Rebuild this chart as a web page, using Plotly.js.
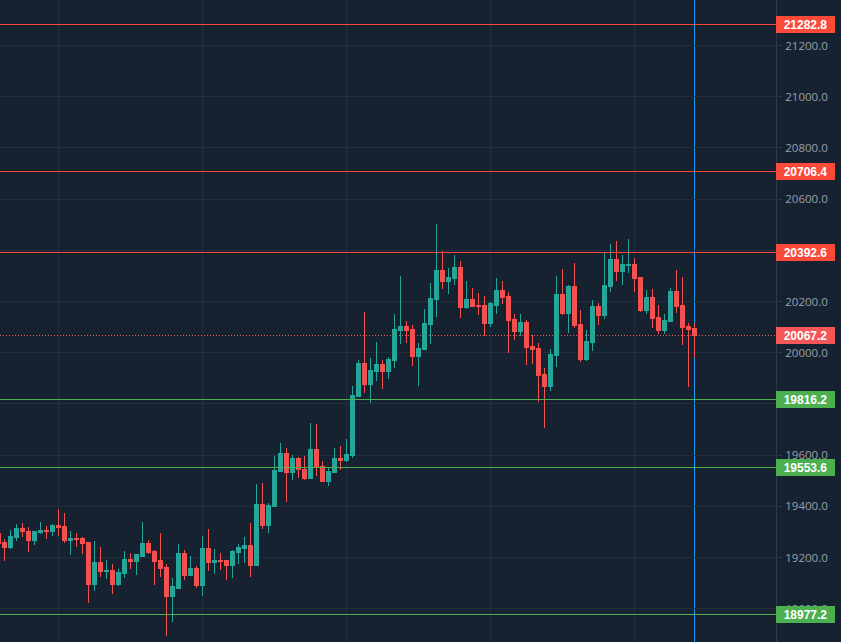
<!DOCTYPE html>
<html><head><meta charset="utf-8">
<script src="https://cdn.plot.ly/plotly-3.0.1.min.js"></script>
<style>html,body{margin:0;padding:0;background:#172231;overflow:hidden}#c{width:841px;height:642px}
.shapelayer path,.boxlayer path{shape-rendering:crispEdges !important}</style>
</head><body><div id="c"></div>
<script>
const open_ = [19292,19257,19241,19280,19315,19303,19268,19296,19307,19300,19327,19323,19268,19276,19276,19257,19093,19182,19147,19151,19093,19136,19194,19186,19206,19253,19225,19190,19163,19046,19081,19214,19128,19159,19089,19237,19182,19190,19190,19167,19221,19237,19249,19167,19409,19327,
19401,19538,19608,19534,19588,19545,19510,19623,19557,19499,19534,19588,19581,19600,19830,19959,19877,19928,19955,19928,19971,
20088,20103,20092,19986,20013,20111,20209,20322,20279,20291,20333,20177,20209,20185,20185,20115,20185,20244,20220,20131,20084,20119,20025,20017,19916,19869,
19990,20228,20154,20259,20111,19975,20041,20181,20146,20259,20365,20318,20341,20345,20295,20166,20216,20138,20088,20123,20240,20185,20103,20095];
const high_ = [19300,19272,19307,19331,19335,19319,19303,19339,19323,19331,19389,19374,19303,19296,19280,19257,19264,19241,19190,19175,19155,19225,19218,19214,19339,19268,19229,19296,19175,19120,19253,19229,19206,19167,19284,19311,19233,19218,19190,19229,19253,19280,19335,19487,19491,19413,
19596,19647,19627,19600,19592,19596,19725,19721,19577,19549,19627,19635,19662,19869,19971,20158,19979,20041,19971,19982,20150,
20298,20123,20107,20037,20170,20271,20501,20396,20330,20380,20357,20279,20252,20232,20220,20197,20291,20279,20236,20150,20150,20127,20068,20037,19939,20013,
20298,20326,20263,20349,20166,20088,20205,20193,20388,20423,20435,20380,20443,20369,20295,20244,20248,20185,20150,20252,20322,20295,20115,20115];
const low_ = [19240,19186,19233,19264,19280,19221,19249,19292,19272,19284,19284,19257,19210,19241,19214,19022,19069,19124,19116,19058,19089,19120,19155,19132,19206,19214,19093,19124,18894,18948,19077,19112,19128,19081,19050,19147,19136,19151,19112,19120,19175,19179,19124,19167,19311,19296,
19401,19534,19417,19502,19510,19502,19510,19518,19499,19479,19530,19541,19573,19588,19826,19842,19803,19889,19857,19896,19939,
20033,20037,19947,19869,20010,20033,20138,20248,20228,20263,20135,20170,20177,20146,20064,20099,20150,20189,19998,20049,20064,19951,19955,19807,19705,19850,
19943,20146,20076,20095,19963,19967,20006,20107,20131,20236,20279,20263,20310,20236,20158,20150,20095,20072,20072,20119,20154,20029,19865,19978];
const close_ = [19255,19241,19284,19315,19300,19268,19300,19307,19300,19327,19319,19268,19276,19272,19253,19093,19182,19147,19151,19093,19140,19194,19186,19210,19253,19221,19186,19159,19046,19085,19214,19128,19159,19089,19237,19182,19190,19186,19167,19225,19241,19249,19167,19409,19327,19405,
19541,19608,19534,19588,19545,19510,19623,19553,19499,19538,19588,19581,19604,19834,19959,19877,19932,19955,19928,19975,20092,
20103,20088,19986,20017,20115,20213,20322,20279,20294,20333,20177,20209,20181,20181,20115,20193,20244,20216,20127,20084,20119,20021,20013,19912,19869,19994,
20228,20154,20259,20107,19975,20045,20181,20146,20263,20365,20318,20345,20345,20291,20166,20216,20134,20088,20127,20240,20181,20099,20092,20067];
const levelPrices = [21282.8,20706.4,20392.6,20067.2,19816.2,19553.6,18977.2];
const levelLines = ['#f9463a','#f9463a','#f9463a','#f45757','#4caf50','#4caf50','#4caf50'];
const levelTags = ['#fc4a3a','#fc4a3a','#fc4a3a','#f45757','#4caf50','#4caf50','#4caf50'];
const crossIndex = 115;
const gridIndex = [9,33,57,81,105];
const priceTicks = [19000,19200,19400,19600,19800,20000,20200,20400,20600,20800,21000,21200];

const idx = open_.map((_,i)=>i-1);
const shapes = [
 {type:'line',layer:'below',xref:'x',yref:'paper',x0:crossIndex,x1:crossIndex,y0:0,y1:1,line:{color:'#2196f3',width:1}}
];
levelPrices.forEach((p,i)=>{
  const dotted = (p===20067.2);
  shapes.push({type:'line',layer:dotted?'below':'above',xref:'paper',yref:'y',x0:0,x1:1,y0:p,y1:p,
    line:{color:levelLines[i],width:1,dash:dotted?'1px,2px':'solid'}});
});
const annotations = levelPrices.map((p,i)=>({
  xref:'paper',yref:'y',x:1,y:p,xanchor:'left',yanchor:'middle',showarrow:false,
  text:'<b>'+p.toFixed(1)+'</b>',width:57,height:15,align:'center',bgcolor:levelTags[i],bordercolor:levelTags[i],borderwidth:1,borderpad:0,
  font:{family:'Liberation Sans, sans-serif',size:12,color:'#ffffff'}
}));
Plotly.newPlot('c',[{
  type:'candlestick',x:idx,open:open_,high:high_,low:low_,close:close_,whiskerwidth:0,
  increasing:{line:{color:'#26a69a',width:1},fillcolor:'#26a69a'},
  decreasing:{line:{color:'#f4504f',width:1},fillcolor:'#f4504f'},
  hoverinfo:'none'
}],{
  width:841,height:642,margin:{l:0,r:65,t:0,b:0,pad:0},showlegend:false,
  boxmode:'group',boxgap:0.3333,boxgroupgap:0,
  paper_bgcolor:'#172231',plot_bgcolor:'#172231',
  xaxis:{range:[-0.75,128.583],rangeslider:{visible:false},tickmode:'array',tickvals:gridIndex,showticklabels:false,ticks:'',
    showgrid:true,gridcolor:'#222e3e',gridwidth:1,zeroline:false,showline:false},
  yaxis:{side:'right',range:[18870.1,21377.9],tickmode:'array',tickvals:priceTicks,tickformat:'.1f',ticks:'outside',ticklen:5,tickcolor:'#2e3a4a',tickwidth:1,ticklabelstandoff:1,
    showgrid:true,gridcolor:'#222e3e',gridwidth:1,zeroline:false,showline:true,linecolor:'#2e3a4a',linewidth:1,
    tickfont:{family:'Open Sans, sans-serif',size:11.5,color:'#98a0ab'}},
  shapes,annotations
},{displayModeBar:false,staticPlot:true});
</script></body></html>
